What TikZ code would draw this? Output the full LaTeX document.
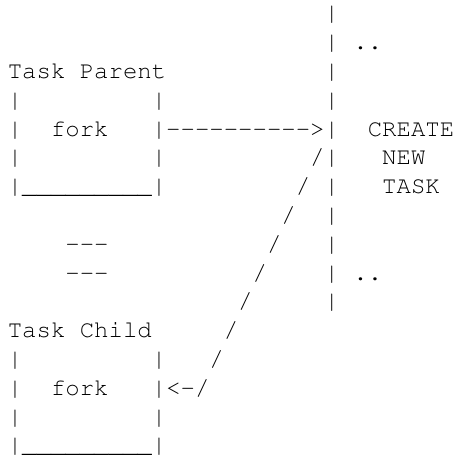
\documentclass[tikz,border=0pt]{standalone}
\usepackage[T1]{fontenc}
\begin{document}
\begin{tikzpicture}[x=1pt,y=-1pt,
  ascii/.style={inner sep=0pt, outer sep=0pt, anchor=base west,
    font=\fontfamily{pcr}\fontsize{24}{28.8}\selectfont}]
% character grid: 14.4pt per column, 28.8pt per row
\newcommand\arow[4]{\node[ascii] (#1) at ({7.8+14.4*#2},{20.8+28.8*#3}) {#4};}
\useasboundingbox (0,0) rectangle (473,458);
\arow{r0}{22}{0}{|}
\arow{r1}{22}{1}{|~..}
\arow{r2}{0}{2}{Task~Parent~~~~~~~~~~~|}
\arow{r3}{0}{3}{|~~~~~~~~~|~~~~~~~~~~~|}
\arow{r4}{0}{4}{|~~fork~~~|-{}-{}-{}-{}-{}-{}-{}-{}-{}->|~~CREATE}
\arow{r5}{0}{5}{|~~~~~~~~~|~~~~~~~~~~/|~~~NEW}
\arow{r6}{0}{6}{|\_\_\_\_\_\_\_\_\_|~~~~~~~~~/~|~~~TASK}
\arow{r7}{19}{7}{/~~|}
\arow{r8}{4}{8}{-{}-{}-~~~~~~~~~~~/~~~|}
\arow{r9}{4}{9}{-{}-{}-~~~~~~~~~~/~~~~|~..}
\arow{r10}{16}{10}{/~~~~~|}
\arow{r11}{0}{11}{Task~Child~~~~~/}
\arow{r12}{0}{12}{|~~~~~~~~~|~~~/}
\arow{r13}{0}{13}{|~~fork~~~|<-/}
\arow{r14}{0}{14}{|~~~~~~~~~|}
\arow{r15}{0}{15}{|\_\_\_\_\_\_\_\_\_|}
\end{tikzpicture}
\end{document}
